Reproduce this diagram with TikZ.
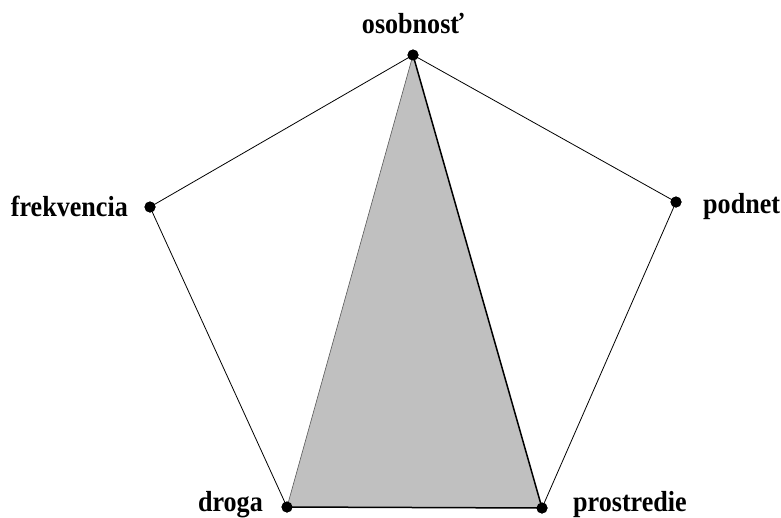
\documentclass[tikz,border=0pt]{standalone}
\usepackage{fontspec}
\setmainfont{Liberation Serif}
\begin{document}
\begin{tikzpicture}[x=1pt,y=-1pt,
  pt/.style={circle,fill=black,inner sep=0pt,minimum size=11pt},
  lab/.style={font=\fontsize{29}{32}\selectfont\bfseries,inner sep=0pt,xscale=0.9}]
\useasboundingbox[fill=white] (0,0) rectangle (781,517);
\node[pt] (o) at (413,55) {};
\node[pt] (f) at (150,207) {};
\node[pt] (p) at (676,202) {};
\node[pt] (d) at (287,507) {};
\node[pt] (r) at (542,508) {};
\fill[fill={rgb,255:red,192;green,192;blue,192}] (o.center) -- (d.center) -- (r.center) -- cycle;
\draw[line width=0.8pt] (o.center) -- (f.center) -- (d.center);
\draw[line width=0.8pt] (o.center) -- (p.center) -- (r.center);
\draw[line width=0.6pt, gray!70!black] (o.center) -- (d.center);
\draw[line width=1.5pt] (o.center) -- (r.center);
\draw[line width=1.5pt] (d.center) -- (r.center);
\node[pt] at (o) {};
\node[pt] at (f) {};
\node[pt] at (p) {};
\node[pt] at (d) {};
\node[pt] at (r) {};
\node[lab,anchor=base] (lo) at (413,33) {osobnosť};
\node[lab,anchor=base east] (lf) at (128,216) {frekvencia};
\node[lab,anchor=base west] (lp) at (703,213) {podnet};
\node[lab,anchor=base east] (ld) at (263,511) {droga};
\node[lab,anchor=base west] (lr) at (573,511) {prostredie};
\end{tikzpicture}
\end{document}
